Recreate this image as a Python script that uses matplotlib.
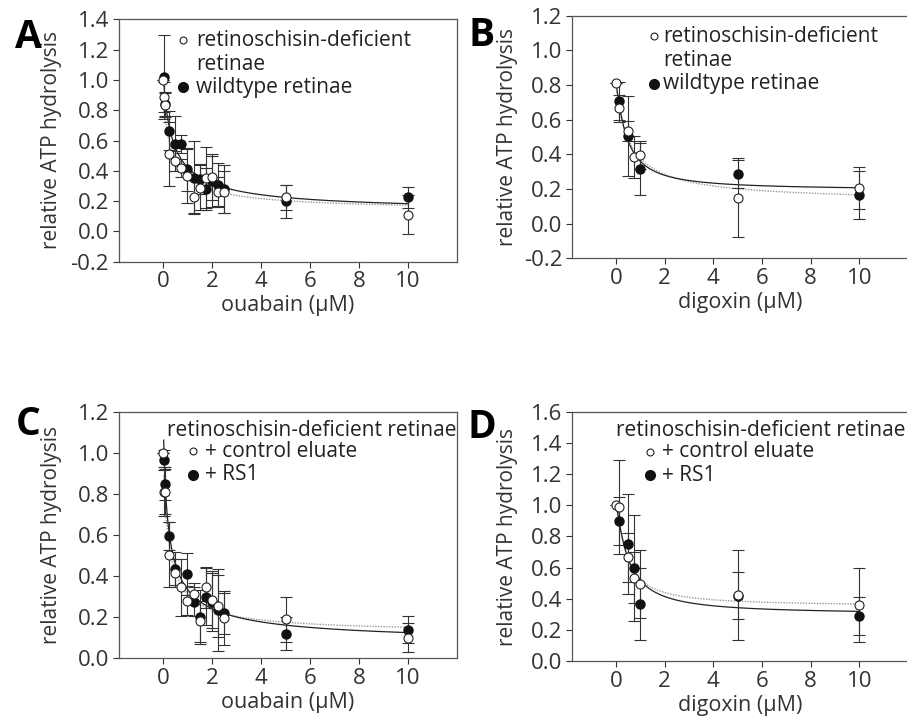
import matplotlib
matplotlib.use("Agg")
import matplotlib.pyplot as plt
import numpy as np

plt.rcParams["font.family"] = ["Open Sans", "DejaVu Sans"]

# ---- data ----
# A: ouabain, retinoschisin-deficient (open) vs wildtype (filled)
a_open_x = [0, 0.025, 0.1, 0.25, 0.5, 0.75, 1.0, 1.25, 1.5, 1.75, 2.0, 2.25, 2.5, 5, 10]
a_open_y = [1.00, 0.89, 0.835, 0.51, 0.465, 0.42, 0.365, 0.23, 0.29, 0.355, 0.36, 0.26, 0.26, 0.225, 0.11]
a_open_e = [0.0, 0.10, 0.08, 0.21, 0.065, 0.06, 0.18, 0.11, 0.15, 0.2, 0.15, 0.10, 0.14, 0.085, 0.13]
a_fill_x = [0.025, 0.1, 0.25, 0.5, 0.75, 1.0, 1.25, 1.5, 1.75, 2.0, 2.25, 2.5, 5, 10]
a_fill_y = [1.02, 0.84, 0.665, 0.58, 0.575, 0.41, 0.355, 0.345, 0.28, 0.33, 0.31, 0.28, 0.20, 0.225]
a_fill_e = [0.28, 0.08, 0.13, 0.18, 0.06, 0.14, 0.24, 0.10, 0.14, 0.17, 0.14, 0.16, 0.11, 0.07]

# B: digoxin, retinoschisin-deficient (open) vs wildtype (filled)
b_open_x = [0, 0.1, 0.5, 0.75, 1.0, 5, 10]
b_open_y = [0.81, 0.665, 0.535, 0.385, 0.395, 0.15, 0.205]
b_open_e = [0.0, 0.08, 0.06, 0.12, 0.08, 0.23, 0.12]
b_fill_x = [0.1, 0.5, 1.0, 5, 10]
b_fill_y = [0.71, 0.505, 0.315, 0.285, 0.165]
b_fill_e = [0.11, 0.23, 0.15, 0.08, 0.14]

# C: ouabain, + control eluate (open) vs + RS1 (filled)
c_open_x = [0, 0.05, 0.1, 0.25, 0.5, 0.75, 1.0, 1.25, 1.5, 1.75, 2.0, 2.25, 2.5, 5, 10]
c_open_y = [1.00, 0.81, 0.81, 0.505, 0.415, 0.345, 0.28, 0.315, 0.18, 0.345, 0.285, 0.255, 0.195, 0.19, 0.10]
c_open_e = [0.0, 0.12, 0.11, 0.16, 0.07, 0.14, 0.07, 0.05, 0.10, 0.10, 0.14, 0.15, 0.13, 0.11, 0.07]
c_fill_x = [0.05, 0.1, 0.25, 0.5, 1.0, 1.25, 1.5, 1.75, 2.0, 2.25, 2.5, 5, 10]
c_fill_y = [0.965, 0.85, 0.595, 0.435, 0.41, 0.275, 0.20, 0.30, 0.275, 0.235, 0.22, 0.12, 0.14]
c_fill_e = [0.05, 0.08, 0.07, 0.08, 0.10, 0.07, 0.13, 0.14, 0.14, 0.20, 0.10, 0.08, 0.065]

# D: digoxin, + control eluate (open) vs + RS1 (filled)
d_open_x = [0, 0.1, 0.5, 0.75, 1.0, 5, 10]
d_open_y = [1.00, 0.99, 0.665, 0.535, 0.495, 0.425, 0.36]
d_open_e = [0.0, 0.30, 0.155, 0.165, 0.215, 0.29, 0.235]
d_fill_x = [0.1, 0.5, 0.75, 1.0, 5, 10]
d_fill_y = [0.90, 0.75, 0.60, 0.365, 0.42, 0.29]
d_fill_e = [0.155, 0.32, 0.34, 0.23, 0.15, 0.12]

y_label = "relative ATP hydrolysis"


def fit_curve(x, y):
    # least-squares fit of y = bottom + (top - bottom) / (1 + (x/k)^n)
    x = np.asarray(x, float)
    y = np.asarray(y, float)
    best = None
    for k in np.logspace(-1.3, 1.5, 140):
        for n in np.linspace(0.3, 1.2, 19):
            g = 1.0 / (1.0 + (x / k) ** n)
            m = np.column_stack([np.ones_like(x), g])
            coef = np.linalg.lstsq(m, y, rcond=None)[0]
            if coef[0] < 0 or coef[0] + coef[1] > 1.4:
                continue
            err = np.sum((m @ coef - y) ** 2)
            if best is None or err < best[0]:
                best = (err, k, n, coef)
    _, k, n, coef = best
    return lambda t: coef[0] + coef[1] / (1.0 + (t / k) ** n)


def draw_panel(ax, ox, oy, oe, fx, fy, fe, ylim, yticks, xlabel):
    t = np.linspace(0.03, 10, 500)
    ax.plot(t, fit_curve(ox, oy)(t), ls=(0, (1, 1)), color="#999999", lw=1.0, zorder=2)
    ax.plot(t, fit_curve(fx, fy)(t), color="#222222", lw=0.9, zorder=2)
    ax.errorbar(fx, fy, yerr=fe, fmt="none", ecolor="#333333", elinewidth=0.8, capsize=4, capthick=0.8, zorder=3)
    ax.errorbar(ox, oy, yerr=oe, fmt="none", ecolor="#333333", elinewidth=0.8, capsize=4, capthick=0.8, zorder=3)
    ax.plot(fx, fy, "o", ms=6.5, mfc="#111111", mec="#111111", ls="none", zorder=4)
    ax.plot(ox, oy, "o", ms=6.5, mfc="white", mec="#222222", mew=0.8, ls="none", zorder=5)
    ax.set_xlim(-1.8, 12)
    ax.set_xticks([0, 2, 4, 6, 8, 10])
    ax.set_ylim(*ylim)
    ax.set_yticks(yticks)
    ax.set_yticklabels([f"{v:.1f}" for v in yticks])
    ax.set_xlabel(xlabel, fontsize=15.5, color="#333333", labelpad=2)
    ax.tick_params(labelsize=16, colors="#333333", length=4, width=0.8, pad=3)
    for s in ax.spines.values():
        s.set_color("#555555")
        s.set_linewidth(0.9)


fig = plt.figure(figsize=(9.07, 7.21), dpi=100)
ax_a = fig.add_axes([0.131, 0.637, 0.373, 0.336])
ax_b = fig.add_axes([0.631, 0.642, 0.370, 0.336])
ax_c = fig.add_axes([0.131, 0.087, 0.373, 0.342])
ax_d = fig.add_axes([0.631, 0.083, 0.370, 0.346])

draw_panel(ax_a, a_open_x, a_open_y, a_open_e, a_fill_x, a_fill_y, a_fill_e,
           (-0.2, 1.4), np.arange(-0.2, 1.41, 0.2), "ouabain (µM)")
draw_panel(ax_b, b_open_x, b_open_y, b_open_e, b_fill_x, b_fill_y, b_fill_e,
           (-0.2, 1.2), np.arange(-0.2, 1.21, 0.2), "digoxin (µM)")
draw_panel(ax_c, c_open_x, c_open_y, c_open_e, c_fill_x, c_fill_y, c_fill_e,
           (0.0, 1.2), np.arange(0.0, 1.21, 0.2), "ouabain (µM)")
draw_panel(ax_d, d_open_x, d_open_y, d_open_e, d_fill_x, d_fill_y, d_fill_e,
           (0.0, 1.6), np.arange(0.0, 1.61, 0.2), "digoxin (µM)")

# legends drawn as text + markers, like the original
fs = 15
for ax, mx, tx in [(ax_a, 0.19, 0.228), (ax_b, 0.242, 0.27)]:
    ax.plot([mx], [0.915], "o", ms=5, mfc="white", mec="#222222", mew=0.8, transform=ax.transAxes, clip_on=False)
    ax.text(tx, 0.915, "retinoschisin-deficient", fontsize=fs, color="#222222", va="center", transform=ax.transAxes)
    ax.text(tx, 0.815, "retinae", fontsize=fs, color="#222222", va="center", transform=ax.transAxes)
    ax.plot([mx], [0.72], "o", ms=7, mfc="#111111", mec="#111111", transform=ax.transAxes, clip_on=False)
    ax.text(tx, 0.72, "wildtype retinae", fontsize=fs, color="#222222", va="center", transform=ax.transAxes)

for ax, hx, mx, tx in [(ax_c, 0.142, 0.22, 0.256), (ax_d, 0.13, 0.23, 0.266)]:
    ax.text(hx, 0.925, "retinoschisin-deficient retinae", fontsize=fs, color="#222222", va="center", transform=ax.transAxes)
    ax.plot([mx], [0.84], "o", ms=5, mfc="white", mec="#222222", mew=0.8, transform=ax.transAxes, clip_on=False)
    ax.text(tx, 0.84, "+ control eluate", fontsize=fs, color="#222222", va="center", transform=ax.transAxes)
    ax.plot([mx], [0.745], "o", ms=7, mfc="#111111", mec="#111111", transform=ax.transAxes, clip_on=False)
    ax.text(tx, 0.745, "+ RS1", fontsize=fs, color="#222222", va="center", transform=ax.transAxes)

# y labels and panel letters
for x, y in [(52, 140), (508, 137), (52, 535), (508, 537)]:
    fig.text(x / 907, 1 - y / 721, y_label, rotation=90, ha="center", va="center", fontsize=15, color="#333333")
for letter, x, y in [("A", 28, 38), ("B", 482, 36), ("C", 28, 425), ("D", 482, 428)]:
    fig.text(x / 907, 1 - y / 721, letter, ha="center", va="center", fontsize=28, fontweight="bold", color="black")

fig.savefig("out.png", dpi=100)
